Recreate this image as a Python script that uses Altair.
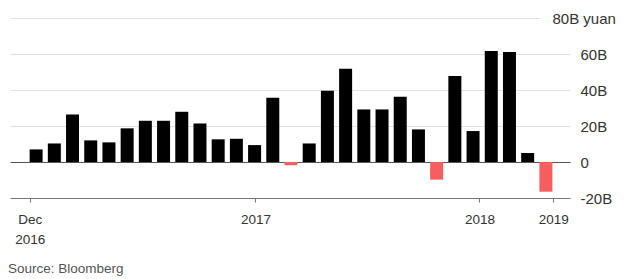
import altair as alt
import pandas as pd

# Bar values (billion yuan), one per period, left to right
values = [7.0, 10.3, 26.4, 12.0, 10.9, 18.7, 22.9, 22.9, 27.9, 21.4, 12.6, 12.9, 9.4,
          35.7, -1.8, 10.3, 39.6, 51.8, 29.2, 29.2, 36.3, 18.1, -9.8, 47.8, 17.2,
          61.7, 61.1, 5.0, -16.5]
periods = list(range(len(values)))

# x-axis ticks (position on the period index) and their labels
tick_pos = [-0.35, 12.05, 24.35, 28.4]
tick_lab = ["Dec\n2016", "2017", "2018", "2019"]

y_ticks = [-20, 0, 20, 40, 60, 80]

df = pd.DataFrame({"period": periods, "value": values})

FONT = "Liberation Sans"

# build label expression from the tick lists
expr = "''"
for p, lab in reversed(list(zip(tick_pos, tick_lab))):
    parts = lab.split("\n")
    if len(parts) > 1:
        txt = "[" + ",".join("'" + s + "'" for s in parts) + "]"
    else:
        txt = "'" + lab + "'"
    expr = f"(abs(datum.value - ({p})) < 0.01 ? {txt} : {expr})"

x_enc = alt.X(
    "period:Q",
    scale=alt.Scale(domain=[-1.16, 29.05], nice=False, zero=False),
    axis=alt.Axis(
        values=tick_pos, labelExpr=expr, title=None, grid=False,
        domainColor="#777", tickColor="#777", tickSize=4,
        labelFont=FONT, labelFontSize=13.5, labelColor="#333",
        labelPadding=10, labelLineHeight=20, labelBaseline="top",
        labelAlign="center", labelFlush=False, labelOverlap=False,
    ),
)

y_enc = alt.Y(
    "value:Q",
    scale=alt.Scale(domain=[-20, 80], nice=False),
    axis=alt.Axis(
        orient="right", values=y_ticks, title=None, domain=False, ticks=False,
        labelExpr="datum.value == 0 ? '0' : (datum.value == 80 ? '80B yuan' : datum.value + 'B')",
        labelFont=FONT, labelFontSize=15, labelColor="#333", labelAlign="left",
        labelOverlap=False, labelFlush=False,
        labelPadding={"condition": {"test": "datum.value == 80", "value": -18}, "value": 10},
        gridColor={"condition": {"test": "datum.value == 0", "value": "#555"}, "value": "#e2e2e2"},
        gridDash={"condition": {"test": "datum.value == 80", "value": [0, 30, 530, 10]}, "value": []},
        gridOpacity={"condition": {"test": "datum.value == -20", "value": 0}, "value": 1},
    ),
)

bars = alt.Chart(df).mark_bar(size=13).encode(
    x=x_enc,
    y=y_enc,
    y2=alt.datum(0),
    color=alt.condition("datum.value < 0", alt.value("#f75f5f"), alt.value("#000000")),
)

source = alt.Chart(pd.DataFrame({"t": ["Source: Bloomberg"]})).mark_text(
    align="left", baseline="alphabetic", font=FONT, fontSize=13.5, color="#555"
).encode(text="t:N", x=alt.value(-2), y=alt.value(255))

chart = alt.layer(bars, source).properties(
    width=560, height=180,
    autosize=alt.AutoSizeParams(type="none"),
    padding={"left": 10, "top": 18, "right": 60, "bottom": 81},
    background="white",
).configure_view(stroke=None)

chart.save("out.html", embed_options={"renderer": "svg", "actions": False})
